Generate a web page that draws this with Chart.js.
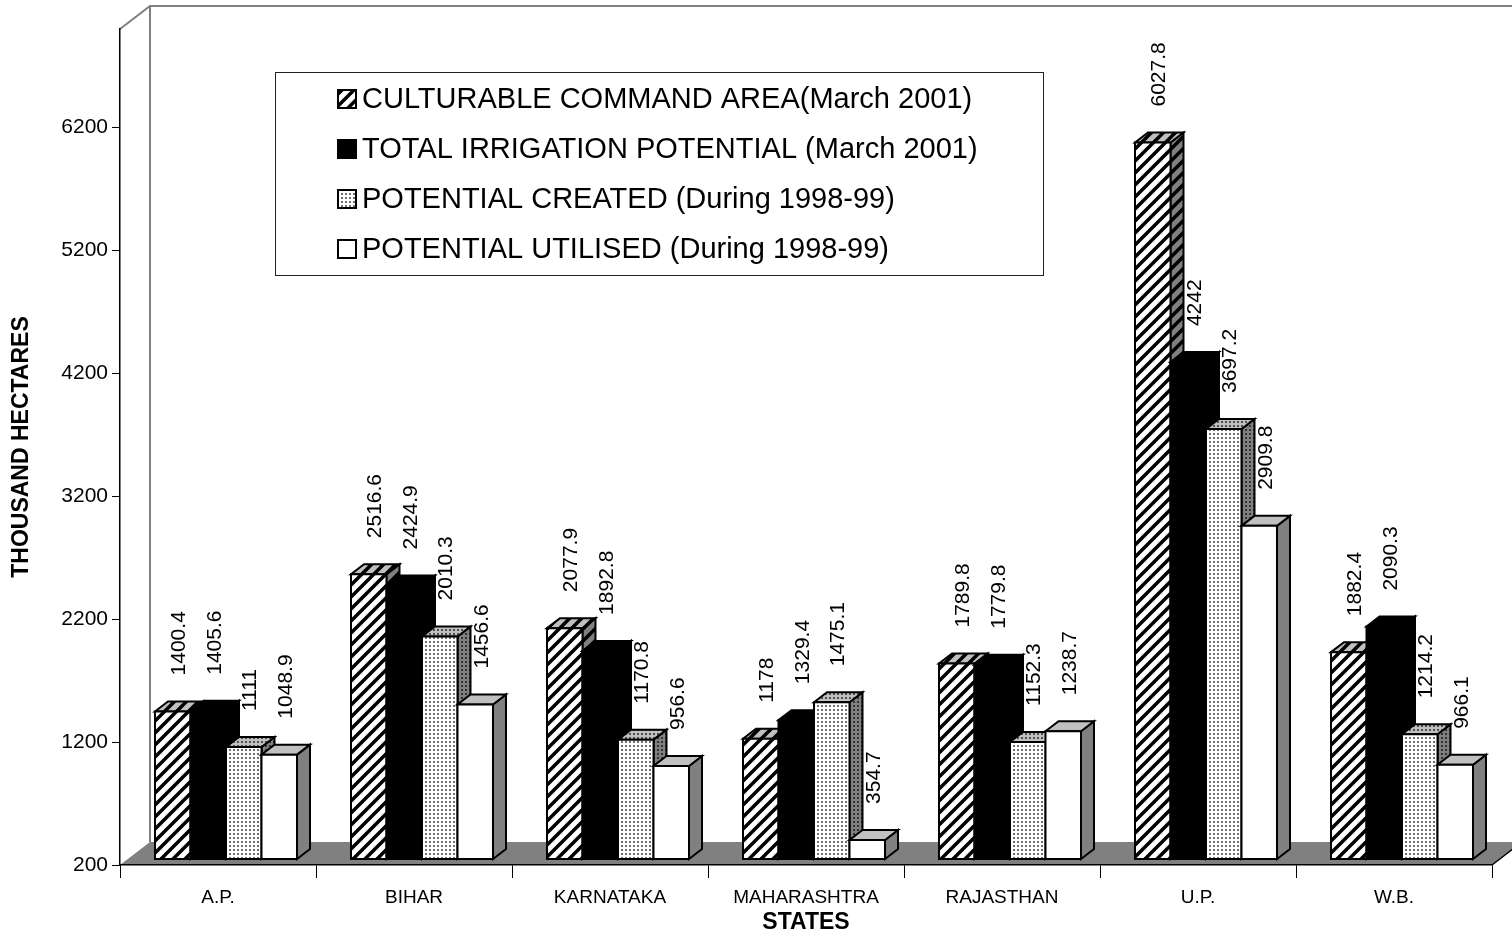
<!DOCTYPE html>
<html>
<head>
<meta charset="utf-8">
<script src="https://cdn.jsdelivr.net/npm/chart.js@4.4.1/dist/chart.umd.min.js"></script>
<style>
  html, body { margin: 0; padding: 0; background: #fff; }
</style>
</head>
<body>
<canvas id="irrigationChart" width="1512" height="934"></canvas>
<script>
// values, thousand hectares
const states = ['A.P.', 'BIHAR', 'KARNATAKA', 'MAHARASHTRA', 'RAJASTHAN', 'U.P.', 'W.B.'];
const culturableArea = [1400.4, 2516.6, 2077.9, 1178, 1789.8, 6027.8, 1882.4];
const totalPotential = [1405.6, 2424.9, 1892.8, 1329.4, 1779.8, 4242, 2090.3];
const potentialCreated = [1111, 2010.3, 1170.8, 1475.1, 1152.3, 3697.2, 1214.2];
const potentialUtilised = [1048.9, 1456.6, 956.6, 354.7, 1238.7, 2909.8, 966.1];
const seriesNames = [
  'CULTURABLE COMMAND AREA(March 2001)',
  'TOTAL IRRIGATION POTENTIAL (March 2001)',
  'POTENTIAL CREATED (During 1998-99)',
  'POTENTIAL UTILISED (During 1998-99)'
];
const yTicks = [200, 1200, 2200, 3200, 4200, 5200, 6200];

const FONT = '"Liberation Sans", Arial, sans-serif';
const WALL = { dx: 30, dy: -23 };   // full depth of the floor / walls
const FRONT = { dx: 8, dy: -6 };    // where the bar fronts sit
const BAR = { dx: 13, dy: -10 };    // bar depth

function makeTile(size, bg, draw) {
  const c = document.createElement('canvas');
  c.width = c.height = size;
  const g = c.getContext('2d');
  g.fillStyle = bg;
  g.fillRect(0, 0, size, size);
  draw(g, size);
  return c;
}
function hatchTile(bg) {
  return makeTile(12, bg, (g, s) => {
    g.strokeStyle = '#000';
    g.lineWidth = 3.5;
    g.beginPath();
    g.moveTo(-3, s + 3); g.lineTo(s + 3, -3);
    g.moveTo(-3, 3); g.lineTo(3, -3);
    g.moveTo(s - 3, s + 3); g.lineTo(s + 3, s - 3);
    g.stroke();
  });
}
function dotTile(bg, fg) {
  return makeTile(4, bg, (g) => {
    g.fillStyle = fg;
    g.fillRect(1, 1, 2, 2);
  });
}

const ctx = document.getElementById('irrigationChart').getContext('2d');
const pat = (tile) => ctx.createPattern(tile, 'repeat');

// front, top, side fill for each series
const faces = [
  [pat(hatchTile('#fff')), pat(hatchTile('#c0c0c0')), pat(hatchTile('#808080'))],
  ['#000', '#000', '#000'],
  [pat(dotTile('#fff', '#707070')), pat(dotTile('#c0c0c0', '#505050')), pat(dotTile('#808080', '#333'))],
  ['#fff', '#c0c0c0', '#808080']
];

function poly(c, pts, fill) {
  c.beginPath();
  c.moveTo(pts[0][0], pts[0][1]);
  for (let k = 1; k < pts.length; k++) c.lineTo(pts[k][0], pts[k][1]);
  c.closePath();
  c.fillStyle = fill;
  c.fill();
  c.stroke();
}

// walls and floor, drawn before the axes
const scenePlugin = {
  id: 'scene',
  beforeDraw(chart) {
    const c = chart.ctx;
    const a = chart.chartArea;
    c.save();
    c.fillStyle = '#808080';
    c.beginPath();
    c.moveTo(a.left, a.bottom);
    c.lineTo(a.right, a.bottom);
    c.lineTo(a.right + WALL.dx, a.bottom + WALL.dy);
    c.lineTo(a.left + WALL.dx, a.bottom + WALL.dy);
    c.closePath();
    c.fill();

    c.strokeStyle = '#808080';
    c.lineWidth = 2;
    c.beginPath();
    c.moveTo(a.left, a.top);
    c.lineTo(a.left + WALL.dx, a.top + WALL.dy);
    c.lineTo(a.right + WALL.dx, a.top + WALL.dy);
    c.moveTo(a.left + WALL.dx, a.top + WALL.dy);
    c.lineTo(a.left + WALL.dx, a.bottom + WALL.dy);
    c.stroke();

    c.strokeStyle = '#000';
    c.lineWidth = 1.5;
    c.beginPath();
    c.moveTo(a.right, a.bottom);
    c.lineTo(a.right + WALL.dx, a.bottom + WALL.dy);
    c.stroke();
    c.restore();
  }
};

// 3d boxes + rotated value labels
const boxPlugin = {
  id: 'boxes',
  afterDatasetsDraw(chart) {
    const c = chart.ctx;
    const yScale = chart.scales.y;
    const basePx = yScale.getPixelForValue(yScale.min);
    const metas = chart.data.datasets.map((d, j) => chart.getDatasetMeta(j));
    const labels = [];
    c.save();
    c.strokeStyle = '#000';
    c.lineWidth = 2;
    c.lineJoin = 'miter';
    for (let i = 0; i < states.length; i++) {
      metas.forEach((meta, j) => {
        const el = meta.data[i];
        const p = el.getProps(['x', 'y', 'width'], true);
        const x0 = p.x - p.width / 2 + FRONT.dx;
        const x1 = p.x + p.width / 2 + FRONT.dx;
        const yt = p.y + FRONT.dy;
        const yb = basePx + FRONT.dy;
        const f = faces[j];
        poly(c, [[x1, yt], [x1 + BAR.dx, yt + BAR.dy], [x1 + BAR.dx, yb + BAR.dy], [x1, yb]], f[2]);
        poly(c, [[x0, yt], [x0 + BAR.dx, yt + BAR.dy], [x1 + BAR.dx, yt + BAR.dy], [x1, yt]], f[1]);
        poly(c, [[x0, yt], [x1, yt], [x1, yb], [x0, yb]], f[0]);
        labels.push({ x: (x0 + x1) / 2 + BAR.dx / 2, y: yt - 36, v: chart.data.datasets[j].data[i] });
      });
    }
    c.fillStyle = '#000';
    c.font = '21px ' + FONT;
    c.textAlign = 'left';
    c.textBaseline = 'middle';
    labels.forEach(l => {
      c.save();
      c.translate(l.x, l.y);
      c.rotate(-Math.PI / 2);
      c.fillText(String(l.v), 0, 0);
      c.restore();
    });
    c.restore();
  }
};

// legend box floating inside the plot
const legendPlugin = {
  id: 'boxLegend',
  afterDraw(chart) {
    const c = chart.ctx;
    c.save();
    c.fillStyle = '#fff';
    c.fillRect(275, 72, 768, 203);
    c.strokeStyle = '#222';
    c.lineWidth = 1;
    c.strokeRect(275.5, 72.5, 768, 203);
    c.font = '29px ' + FONT;
    c.textBaseline = 'middle';
    c.textAlign = 'left';
    chart.data.datasets.forEach((ds, j) => {
      const y = 99 + j * 50;
      c.fillStyle = faces[j][0];
      c.fillRect(338, y - 9, 18, 18);
      c.strokeStyle = '#000';
      c.lineWidth = 2;
      c.strokeRect(338, y - 9, 18, 18);
      c.fillStyle = '#000';
      c.fillText(ds.label, 362, y + 1);
    });
    c.restore();
  }
};

const seriesValues = [culturableArea, totalPotential, potentialCreated, potentialUtilised];

new Chart(ctx, {
  type: 'bar',
  data: {
    labels: states,
    datasets: seriesValues.map((vals, j) => ({
      label: seriesNames[j],
      data: vals,
      backgroundColor: 'rgba(0,0,0,0)',
      borderWidth: 0,
      barPercentage: 1,
      categoryPercentage: 0.7245
    }))
  },
  options: {
    responsive: false,
    animation: false,
    events: [],
    layout: { padding: { top: 29, right: 20, left: 0, bottom: 0 } },
    plugins: {
      legend: { display: false },
      tooltip: { enabled: false }
    },
    scales: {
      x: {
        grid: { drawOnChartArea: false, offset: true, tickLength: 13, color: '#000', lineWidth: 1 },
        border: { display: true, color: '#000', width: 1.5 },
        ticks: { color: '#000', font: { family: FONT, size: 19 }, padding: 8, maxRotation: 0 },
        title: { display: true, text: 'STATES', color: '#000', font: { family: FONT, size: 23, weight: 'bold', lineHeight: 1 }, padding: { top: 0, bottom: 0 } },
        afterFit(scale) { scale.height = 69; }
      },
      y: {
        min: 200,
        max: 7000,
        grid: { drawOnChartArea: false, tickLength: 8, color: '#000', lineWidth: 1 },
        border: { display: true, color: '#000', width: 1.5 },
        ticks: { color: '#000', font: { family: FONT, size: 21 }, padding: 4, callback: v => String(v) },
        afterBuildTicks(scale) { scale.ticks = yTicks.map(v => ({ value: v })); },
        title: { display: true, text: 'THOUSAND HECTARES', color: '#000', font: { family: FONT, size: 23, weight: 'bold', lineHeight: 1.2 }, padding: { top: 8, bottom: 0 } },
        afterFit(scale) { scale.width = 120; }
      }
    }
  },
  plugins: [scenePlugin, boxPlugin, legendPlugin]
});
</script>
</body>
</html>
